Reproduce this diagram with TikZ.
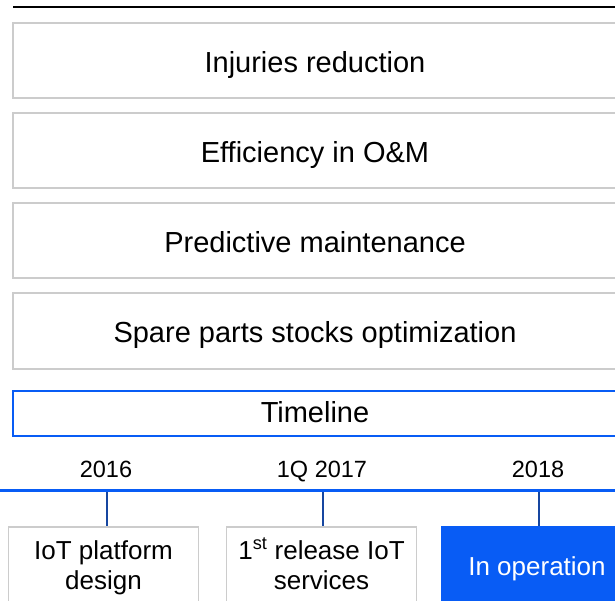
\documentclass[tikz,border=0pt]{standalone}
\usepackage{fontspec}
\setmainfont{Liberation Sans}
\definecolor{boxgray}{RGB}{204,204,204}
\definecolor{mainblue}{RGB}{8,92,245}
\definecolor{darkblue}{RGB}{22,70,160}
\begin{document}
\begin{tikzpicture}[x=1pt,y=-1pt,
  goalbox/.style={draw=boxgray,line width=2pt,minimum width=604pt,minimum height=75pt,inner sep=0pt,text height=23pt,text depth=0pt,font=\fontsize{29}{34}\selectfont},
  timebox/.style={draw=mainblue,line width=2pt,minimum width=604pt,minimum height=45pt,inner sep=0pt,text height=17pt,text depth=0pt,font=\fontsize{29}{34}\selectfont},
  yearlabel/.style={inner sep=0pt,anchor=base,font=\fontsize{23.5}{28}\selectfont},
  stagebox/.style={draw=boxgray,line width=1.5pt,minimum width=190pt,minimum height=78pt,inner sep=0pt},
  activebox/.style={fill=mainblue,draw=mainblue,line width=1.5pt,minimum width=190pt,minimum height=78pt,inner sep=0pt},
  stagetext/.style={inner sep=0pt,anchor=base,font=\fontsize{26}{31}\selectfont},
  tick/.style={draw=darkblue,line width=1.5pt}]
\useasboundingbox (0,0) rectangle (615,601);
\begin{scope}
\clip (0,0) rectangle (615,601);
\coordinate (topL) at (13,7);
\coordinate (topR) at (615,7);
\draw[black,line width=2pt] (topL) -- (topR);
\node[goalbox] (g1) at (315,61) {Injuries reduction};
\node[goalbox] (g2) at (315,151) {Efficiency in O\&M};
\node[goalbox] (g3) at (315,241) {Predictive maintenance};
\node[goalbox] (g4) at (315,331) {Spare parts stocks optimization};
\node[timebox] (tl) at (315,413.5) {Timeline};
\node[yearlabel] (y1) at (106,477) {2016};
\node[yearlabel] (y2) at (322,477) {1Q 2017};
\node[yearlabel] (y3) at (538,477) {2018};
\coordinate (lineL) at (0,490.5);
\coordinate (lineR) at (615,490.5);
\coordinate (t1) at (107,490.5);
\coordinate (t2) at (323,490.5);
\coordinate (t3) at (539,490.5);
\node[stagebox] (s1) at (103.5,566) {};
\node[stagebox] (s2) at (321.5,566) {};
\node[activebox] (s3) at (537,566) {};
\node[stagetext] (s1a) at (103.5,559) {IoT platform};
\node[stagetext] (s1b) at (103.5,589) {design};
\node[stagetext] (s2a) at (321.5,559) {1\textsuperscript{st} release IoT};
\node[stagetext] (s2b) at (321.5,589) {services};
\node[stagetext,text=white] (s3a) at (537,575) {In operation};
\draw[tick] (t1) -- (t1 |- s1.north);
\draw[tick] (t2) -- (t2 |- s2.north);
\draw[tick] (t3) -- (t3 |- s3.north);
\draw[mainblue,line width=3pt] (lineL) -- (lineR);
\end{scope}
\end{tikzpicture}
\end{document}
